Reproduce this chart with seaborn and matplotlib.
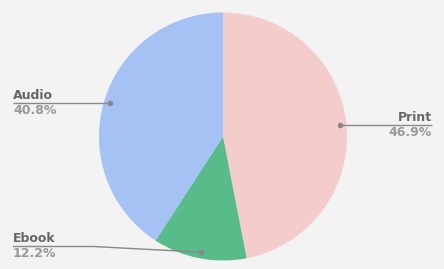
import numpy as np
import matplotlib
matplotlib.use("Agg")
import matplotlib.pyplot as plt
import seaborn as sns

categories = ["Print", "Ebook", "Audio"]
shares = [46.9, 12.2, 40.8]
colors = ["#f4cccc", "#57bb8a", "#a4c2f4"]

sns.set_theme(style="white")
plt.rcParams["font.family"] = ["DejaVu Sans"]

W, H = 444, 269
cx, cy, R = 223, 136.5, 124  # pixel layout of the pie
fig = plt.figure(figsize=(W / 100, H / 100), dpi=100, facecolor="#f3f3f3")
ax = fig.add_axes([0, 0, 1, 1])
ax.set_facecolor("#f3f3f3")

wedges, _ = ax.pie(shares, colors=colors, startangle=90, counterclock=False,
                   radius=1.0, wedgeprops=dict(linewidth=0))
ax.set_xlim(-cx / R, (W - cx) / R)
ax.set_ylim(-(H - cy) / R, cy / R)
ax.set_aspect("equal")
ax.axis("off")

def px2x(px):
    return (px - cx) / R

def py2y(py):
    return (cy - py) / R

left_x, right_x = px2x(13), px2x(432)
elbow = 80 / R
ymin = py2y(246.5)
line_c = "#888888"
for w, cat, val in zip(wedges, categories, shares):
    mid = np.deg2rad((w.theta1 + w.theta2) / 2)
    dx, dy = 0.95 * np.cos(mid), 0.95 * np.sin(mid)
    ly = max(dy, ymin)
    if dx < 0:
        xs = [left_x, left_x + elbow, dx]
        ha, tx = "left", left_x
    else:
        xs = [right_x, right_x - elbow, dx]
        ha, tx = "right", right_x
    ax.plot(xs, [ly, ly, dy], color=line_c, lw=1.0, solid_capstyle="butt")
    ax.plot([dx], [dy], "o", color=line_c, ms=3)
    ax.text(tx, ly + 0.01, cat, ha=ha, va="bottom", fontsize=9,
            fontweight="bold", color="#666666")
    ax.text(tx, ly - 0.005, f"{val}%", ha=ha, va="top", fontsize=9,
            fontweight="bold", color="#999999")

fig.savefig("out.png", dpi=100, facecolor=fig.get_facecolor())
